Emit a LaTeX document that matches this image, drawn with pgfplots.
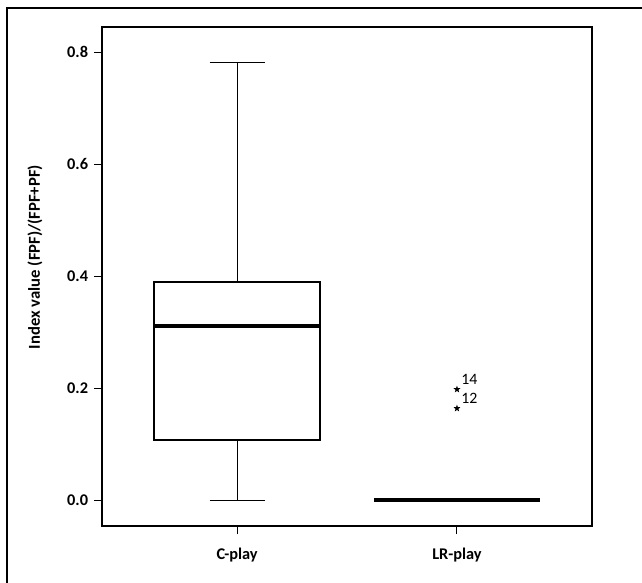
\documentclass[border=0pt]{standalone}
\usepackage{fontspec}
\setmainfont{Carlito}
\usepackage{pgfplots}
\pgfplotsset{compat=1.18}
\usepgfplotslibrary{statistics}
\pgfdeclareplotmark{fstar}{%
  \pgfpathmoveto{\pgfpointpolar{90}{1\pgfplotmarksize}}%
  \pgfpathlineto{\pgfpointpolar{126}{0.42\pgfplotmarksize}}%
  \pgfpathlineto{\pgfpointpolar{162}{1\pgfplotmarksize}}%
  \pgfpathlineto{\pgfpointpolar{198}{0.42\pgfplotmarksize}}%
  \pgfpathlineto{\pgfpointpolar{234}{1\pgfplotmarksize}}%
  \pgfpathlineto{\pgfpointpolar{270}{0.42\pgfplotmarksize}}%
  \pgfpathlineto{\pgfpointpolar{306}{1\pgfplotmarksize}}%
  \pgfpathlineto{\pgfpointpolar{342}{0.42\pgfplotmarksize}}%
  \pgfpathlineto{\pgfpointpolar{18}{1\pgfplotmarksize}}%
  \pgfpathlineto{\pgfpointpolar{54}{0.42\pgfplotmarksize}}%
  \pgfpathclose
  \pgfusepathqfill
}
\begin{document}
\begin{tikzpicture}
\useasboundingbox (0pt,0pt) rectangle (385.2pt,-349.2pt);
\draw[line width=1.1pt] (4.2pt,-360pt) -- (4.2pt,-4.8pt) -- (400pt,-4.8pt);
\begin{axis}[
  at={(61.2pt,-16.2pt)}, anchor=north west,
  width=294pt, height=299.4pt, scale only axis,
  xmin=-0.614, xmax=1.614,
  ymin=-0.046, ymax=0.845,
  xtick={0,1}, xticklabels={C-play,LR-play},
  ytick={0,0.2,0.4,0.6,0.8},
  axis line style={line width=0.8pt},
  tick style={black, line width=0.6pt},
  tick align=outside, major tick length=4.8pt,
  xtick pos=bottom, ytick pos=left,
  /pgf/number format/assume math mode=true,
  ticklabel style={font=\bfseries\fontsize{9.8}{11}\selectfont},
  yticklabel style={/pgf/number format/.cd, fixed, fixed zerofill, precision=1},
  xticklabel style={yshift=-5pt},
  ylabel={Index value (FPF)/(FPF+PF)},
  ylabel style={at={(axis description cs:-0.137,0.539)}, anchor=center, font=\bfseries\fontsize{10}{12}\selectfont},
  boxplot/draw direction=y,
  boxplot/box extend=0.754,
  boxplot/whisker extend=0.25,
  boxplot/every box/.style={line width=1.2pt},
  boxplot/every median/.style={line width=2pt},
  boxplot/every whisker/.style={line width=0.6pt},
]
\addplot[black, boxplot prepared={draw position=0,
  lower whisker=0, lower quartile=0.107, median=0.311,
  upper quartile=0.389, upper whisker=0.781}] coordinates {};
\addplot[black, boxplot prepared={draw position=1,
  lower whisker=0, lower quartile=0, median=0,
  upper quartile=0, upper whisker=0},
  boxplot/every box/.style={line width=2pt},
  boxplot/every median/.style={line width=2.4pt}] coordinates {};
\addplot[black, only marks, mark=fstar, mark size=2.2pt,
  nodes near coords, point meta=explicit symbolic,
  nodes near coords style={anchor=south west, font=\fontsize{9.5}{11}\selectfont, inner sep=1pt, xshift=1.5pt, yshift=1.5pt}]
  coordinates {(1,0.198)[14] (1,0.164)[12]};
\end{axis}
\end{tikzpicture}
\end{document}
